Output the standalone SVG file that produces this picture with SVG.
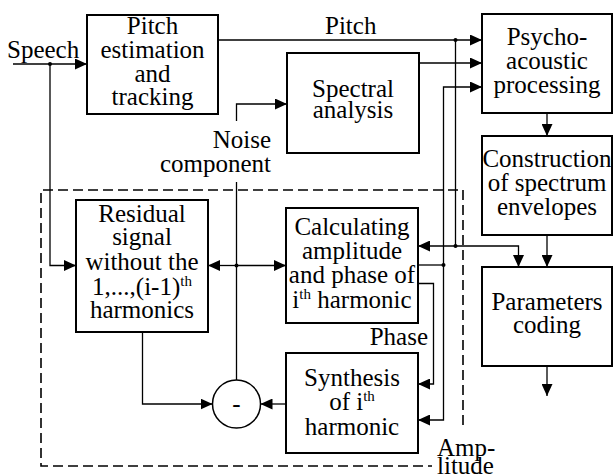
<svg xmlns="http://www.w3.org/2000/svg" width="613" height="476" viewBox="0 0 613 476">
<defs>
<marker id="ah" markerWidth="12" markerHeight="11" refX="12" refY="5.5" orient="auto" markerUnits="userSpaceOnUse"><path d="M0,0 L12,5.5 L0,11 z" fill="#000"/></marker>
</defs>
<path d="M463,425 V190 H41 V466 H432" fill="none" stroke="#000" stroke-width="1.6" stroke-dasharray="10 5"/>
<g id="connectors" fill="none" stroke="#000" stroke-width="1.3">
<path marker-end="url(#ah)" d="M13,64 H87"/>
<path marker-end="url(#ah)" d="M50,64 V265.5 H76"/>
<path marker-end="url(#ah)" d="M218,40 H482"/>
<path d="M455.5,40 V246"/>
<path marker-end="url(#ah)" d="M455.5,246 H418"/>
<path marker-end="url(#ah)" d="M455.5,246 H518.5 V267"/>
<path marker-end="url(#ah)" d="M419,63 H482"/>
<path marker-end="url(#ah)" d="M236.5,121 V104 H287"/>
<path d="M236.5,182 V380"/>
<path marker-end="url(#ah)" d="M236.5,265.5 H208"/>
<path marker-end="url(#ah)" d="M236.5,265.5 H286"/>
<path marker-end="url(#ah)" d="M547,113 V136"/>
<path marker-end="url(#ah)" d="M547,236 V267"/>
<path marker-end="url(#ah)" d="M547,366 V396"/>
<path d="M418,265 H443.5"/>
<path marker-end="url(#ah)" d="M443.5,265 V87 H482"/>
<path marker-end="url(#ah)" d="M443.5,265 V420 H418"/>
<path marker-end="url(#ah)" d="M418,283.5 H433.5 V384 H418"/>
<path marker-end="url(#ah)" d="M286,404 H260.5"/>
<path marker-end="url(#ah)" d="M142.5,332 V404 H212.5"/>
<g fill="#000" stroke="none">
<circle cx="50" cy="64" r="2"/>
<circle cx="455.5" cy="40" r="2"/>
<circle cx="455.5" cy="246" r="2"/>
<circle cx="236.5" cy="265.5" r="2"/>
<circle cx="443.5" cy="265" r="2"/>
</g>
</g>
<g id="labels">
<text font-family="Liberation Serif" font-size="25" x="7" y="58">Speech</text>
<text font-family="Liberation Serif" font-size="25" x="325" y="34">Pitch</text>
<text font-family="Liberation Serif" font-size="25" text-anchor="end" x="271" y="148">Noise</text>
<text font-family="Liberation Serif" font-size="25" text-anchor="end" x="271" y="172">component</text>
<text font-family="Liberation Serif" font-size="25" text-anchor="end" x="428" y="345">Phase</text>
<text font-family="Liberation Serif" font-size="25" x="437" y="456">Amp-</text>
<text font-family="Liberation Serif" font-size="25" x="437" y="474">litude</text>
</g>
<g id="pitch">
<rect x="87" y="15" width="131" height="99" fill="#fff" stroke="#000" stroke-width="2"/>
<text font-family="Liberation Serif" font-size="25" text-anchor="middle" x="152.5" y="34">Pitch</text>
<text font-family="Liberation Serif" font-size="25" text-anchor="middle" x="152.5" y="58">estimation</text>
<text font-family="Liberation Serif" font-size="25" text-anchor="middle" x="152.5" y="82">and</text>
<text font-family="Liberation Serif" font-size="25" text-anchor="middle" x="152.5" y="105">tracking</text>
</g>
<g id="spectral">
<rect x="287" y="53" width="132" height="100" fill="#fff" stroke="#000" stroke-width="2"/>
<text font-family="Liberation Serif" font-size="25" text-anchor="middle" x="353" y="97">Spectral</text>
<text font-family="Liberation Serif" font-size="25" text-anchor="middle" x="353" y="118">analysis</text>
</g>
<g id="psycho">
<rect x="482" y="14" width="130" height="99" fill="#fff" stroke="#000" stroke-width="2"/>
<text font-family="Liberation Serif" font-size="25" text-anchor="middle" x="547" y="45">Psycho-</text>
<text font-family="Liberation Serif" font-size="25" text-anchor="middle" x="547" y="69">acoustic</text>
<text font-family="Liberation Serif" font-size="25" text-anchor="middle" x="547" y="93">processing</text>
</g>
<g id="construction">
<rect x="482" y="136" width="130" height="99" fill="#fff" stroke="#000" stroke-width="2"/>
<text font-family="Liberation Serif" font-size="25" text-anchor="middle" x="547" y="167">Construction</text>
<text font-family="Liberation Serif" font-size="25" text-anchor="middle" x="547" y="191">of spectrum</text>
<text font-family="Liberation Serif" font-size="25" text-anchor="middle" x="547" y="215">envelopes</text>
</g>
<g id="params">
<rect x="482" y="267" width="130" height="99" fill="#fff" stroke="#000" stroke-width="2"/>
<text font-family="Liberation Serif" font-size="25" text-anchor="middle" x="547" y="310">Parameters</text>
<text font-family="Liberation Serif" font-size="25" text-anchor="middle" x="547" y="333">coding</text>
</g>
<g id="residual">
<rect x="76" y="200" width="132" height="132" fill="#fff" stroke="#000" stroke-width="2"/>
<text font-family="Liberation Serif" font-size="25" text-anchor="middle" x="142" y="222">Residual</text>
<text font-family="Liberation Serif" font-size="25" text-anchor="middle" x="142" y="245">signal</text>
<text font-family="Liberation Serif" font-size="25" text-anchor="middle" x="142" y="270">without the</text>
<text font-family="Liberation Serif" font-size="25" text-anchor="middle" x="142" y="295">1,...,(i-1)<tspan font-size="15" dy="-9">th</tspan></text>
<text font-family="Liberation Serif" font-size="25" text-anchor="middle" x="142" y="318">harmonics</text>
</g>
<g id="calc">
<rect x="286" y="208" width="132" height="115" fill="#fff" stroke="#000" stroke-width="2"/>
<text font-family="Liberation Serif" font-size="25" text-anchor="middle" x="352" y="235">Calculating</text>
<text font-family="Liberation Serif" font-size="25" text-anchor="middle" x="352" y="259">amplitude</text>
<text font-family="Liberation Serif" font-size="25" text-anchor="middle" x="352" y="283">and phase of</text>
<text font-family="Liberation Serif" font-size="25" text-anchor="middle" x="352" y="308">i<tspan font-size="15" dy="-9">th</tspan><tspan dy="9"> harmonic</tspan></text>
</g>
<g id="synth">
<rect x="286" y="353" width="132" height="100" fill="#fff" stroke="#000" stroke-width="2"/>
<text font-family="Liberation Serif" font-size="25" text-anchor="middle" x="352" y="386">Synthesis</text>
<text font-family="Liberation Serif" font-size="25" text-anchor="middle" x="352" y="410">of i<tspan font-size="15" dy="-9">th</tspan></text>
<text font-family="Liberation Serif" font-size="25" text-anchor="middle" x="352" y="435">harmonic</text>
</g>
<g id="minus">
<circle cx="236.5" cy="404" r="24" fill="#fff" stroke="#000" stroke-width="1.5"/>
<text font-family="Liberation Serif" font-size="25" text-anchor="middle" x="236.5" y="412">-</text>
</g>
</svg>
